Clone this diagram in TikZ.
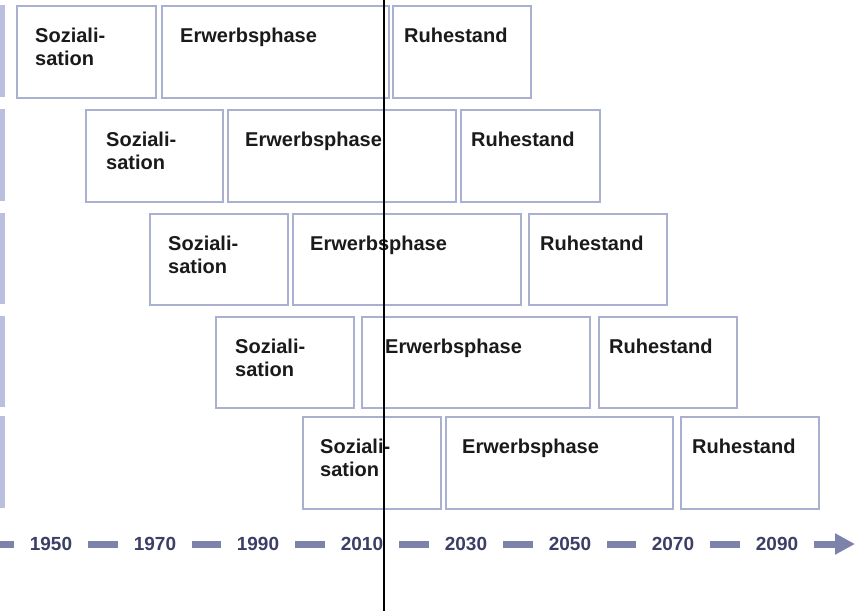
\documentclass[tikz,border=0pt]{standalone}
\usepackage{fontspec}
\setmainfont{Liberation Sans}
\usetikzlibrary{arrows.meta}
\definecolor{boxline}{HTML}{AAB0D0}
\definecolor{barcol}{HTML}{B9BFDD}
\definecolor{axiscol}{HTML}{7C82A9}
\definecolor{yearcol}{HTML}{3B3F66}
\definecolor{txtcol}{HTML}{1A1A1A}
\begin{document}
\begin{tikzpicture}[x=1pt,y=-1pt,
  box/.style={draw=boxline, line width=1.6pt, fill=white, rectangle, inner sep=0pt, anchor=north west},
  lbl/.style={anchor=base west, inner sep=0pt, align=left, text=txtcol, font=\bfseries\fontsize{20}{23}\selectfont},
  yearlbl/.style={inner sep=0pt, text=yearcol, font=\bfseries\fontsize{19}{23}\selectfont},
  axisdash/.style={draw=axiscol, line width=7pt, line cap=butt},
  sidebar/.style={fill=barcol, draw=none}]
\useasboundingbox (0,0) rectangle (855,611);
\foreach \i/\t/\b/\sl/\sr/\el/\er/\rl/\rr/\so/\eo/\ro in {
  1/5/97/16/155/161/388/392/530/19/19/12,
  2/109/201/85/222/227/455/460/599/21/18/11,
  3/213/304/149/287/292/520/528/666/19/18/12,
  4/316/407/215/353/361/589/598/736/20/24/11,
  5/416/508/302/440/445/672/680/818/18/17/12}{
  \fill[sidebar] (0,\t) rectangle (5,\b);
  \node[box, minimum width={(\sr-\sl)*1pt}, minimum height={(\b-\t)*1pt}] (s\i) at (\sl,\t) {};
  \node[box, minimum width={(\er-\el)*1pt}, minimum height={(\b-\t)*1pt}] (e\i) at (\el,\t) {};
  \node[box, minimum width={(\rr-\rl)*1pt}, minimum height={(\b-\t)*1pt}] (r\i) at (\rl,\t) {};
  \node[lbl] (st\i) at ({\sl+\so},{\t+60}) {Soziali-\\sation};
  \node[lbl] (et\i) at ({\el+\eo},{\t+37}) {Erwerbsphase};
  \node[lbl] (rt\i) at ({\rl+\ro},{\t+37}) {Ruhestand};
}
% time axis
\coordinate (axstart) at (0,544);
\coordinate (axend) at (855,544);
\node[yearlbl] (y1950) at (51,544) {1950};
\node[yearlbl] (y1970) at (155,544) {1970};
\node[yearlbl] (y1990) at (258,544) {1990};
\node[yearlbl] (y2010) at (362,544) {2010};
\node[yearlbl] (y2030) at (466,544) {2030};
\node[yearlbl] (y2050) at (570,544) {2050};
\node[yearlbl] (y2070) at (673,544) {2070};
\node[yearlbl] (y2090) at (777,544) {2090};
\draw[axisdash, shorten >=16pt] (axstart) -- (y1950);
\foreach \a/\b in {1950/1970,1970/1990,1990/2010,2010/2030,2030/2050,2050/2070,2070/2090}{
  \draw[axisdash, shorten <=16pt, shorten >=16pt] (y\a) -- (y\b);
}
\draw[axisdash, shorten <=16pt, -{Triangle[length=20pt,width=20pt]}] (y2090) -- (axend);
% vertical marker line
\coordinate (vtop) at (384,0);
\coordinate (vbot) at (384,611);
\draw[line width=2pt, black] (vtop) -- (vbot);
\end{tikzpicture}
\end{document}
